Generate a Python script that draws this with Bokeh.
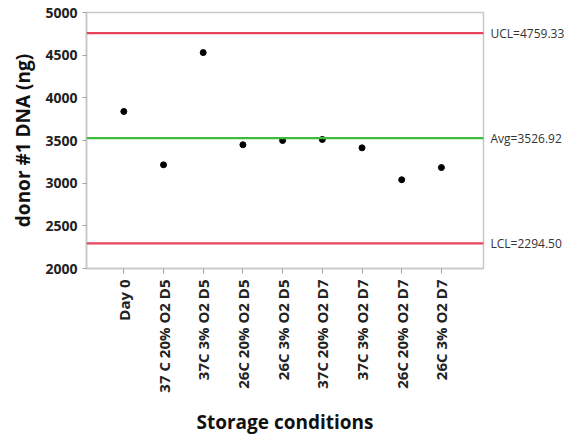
import numpy as np
from bokeh.plotting import figure
from bokeh.models import LinearAxis, FixedTicker, Range1d, ColumnDataSource, Span
from bokeh.embed import file_html
from bokeh.resources import INLINE

categories = ["Day 0", "37 C 20% O2 D5", "37C 3% O2 D5", "26C 20% O2 D5", "26C 3% O2 D5",
              "37C 20% O2 D7", "37C 3% O2 D7", "26C 20% O2 D7", "26C 3% O2 D7"]
dna_ng = [3840, 3215, 4530, 3450, 3500, 3512, 3414, 3040, 3183]
ucl = 4759.33
avg = 3526.92
lcl = 2294.50
y_ticks = [2000, 2500, 3000, 3500, 4000, 4500, 5000]

FONT = "Open Sans"
idx = list(range(len(categories)))

p = figure(frame_width=397, frame_height=256, output_backend="svg", toolbar_location=None,
           x_range=Range1d(-0.94, 9.06), y_range=Range1d(2000, 5000),
           min_border_left=86, min_border_top=12, min_border_right=83, min_border_bottom=171)
p.background_fill_color = "white"
p.border_fill_color = "white"
p.outline_line_color = "#c8c8c8"
p.outline_line_width = 1.5
p.xgrid.visible = False
p.ygrid.visible = False

src = ColumnDataSource(dict(x=idx, y=dna_ng))

p.add_layout(Span(location=ucl, dimension="width", line_color="#e8435a", line_width=2.2))
p.add_layout(Span(location=lcl, dimension="width", line_color="#e8435a", line_width=2.2))
p.add_layout(Span(location=avg, dimension="width", line_color="#3cba3c", line_width=2.2))
p.scatter("x", "y", source=src, size=6, color="black")

# left axis
ya = p.yaxis[0]
ya.ticker = FixedTicker(ticks=y_ticks)
ya.axis_label = "donor #1 DNA (ng)"
ya.axis_label_text_font = FONT
ya.axis_label_text_font_style = "bold"
ya.axis_label_text_font_size = "19px"
ya.axis_label_text_color = "#111111"
ya.axis_label_standoff = 6
ya.major_label_text_font = FONT
ya.major_label_text_font_style = "bold"
ya.major_label_text_font_size = "14px"
ya.major_label_text_color = "#222222"
ya.axis_line_color = "#c8c8c8"
ya.axis_line_width = 1.5
ya.major_tick_line_color = "#a0a0a0"
ya.major_tick_out = 4
ya.major_tick_in = 0
ya.minor_tick_line_color = None

# bottom axis
xa = p.xaxis[0]
xa.ticker = FixedTicker(ticks=idx)
xa.major_label_overrides = {i: c for i, c in zip(idx, categories)}
xa.major_label_orientation = np.pi / 2
xa.axis_label = "Storage conditions"
xa.axis_label_text_font = FONT
xa.axis_label_text_font_style = "bold"
xa.axis_label_text_font_size = "19px"
xa.axis_label_text_color = "#111111"
xa.axis_label_standoff = 13
xa.major_label_text_font = FONT
xa.major_label_text_font_style = "bold"
xa.major_label_text_font_size = "15px"
xa.major_label_text_color = "#222222"
xa.major_label_standoff = 6
xa.axis_line_color = "#c8c8c8"
xa.axis_line_width = 1.5
xa.major_tick_line_color = "#a0a0a0"
xa.major_tick_out = 5
xa.major_tick_in = 0
xa.minor_tick_line_color = None

# right axis with control limit labels
ra = LinearAxis(ticker=FixedTicker(ticks=[lcl, avg, ucl]))
ra.major_label_overrides = {lcl: "LCL=2294.50", avg: "Avg=3526.92", ucl: "UCL=4759.33"}
ra.major_label_text_font = FONT
ra.major_label_text_font_size = "12px"
ra.major_label_text_color = "#333333"
ra.major_label_standoff = 1
ra.axis_line_color = None
ra.major_tick_line_color = None
ra.minor_tick_line_color = None
p.add_layout(ra, "right")

open("out.html", "w").write(file_html(p, INLINE))
